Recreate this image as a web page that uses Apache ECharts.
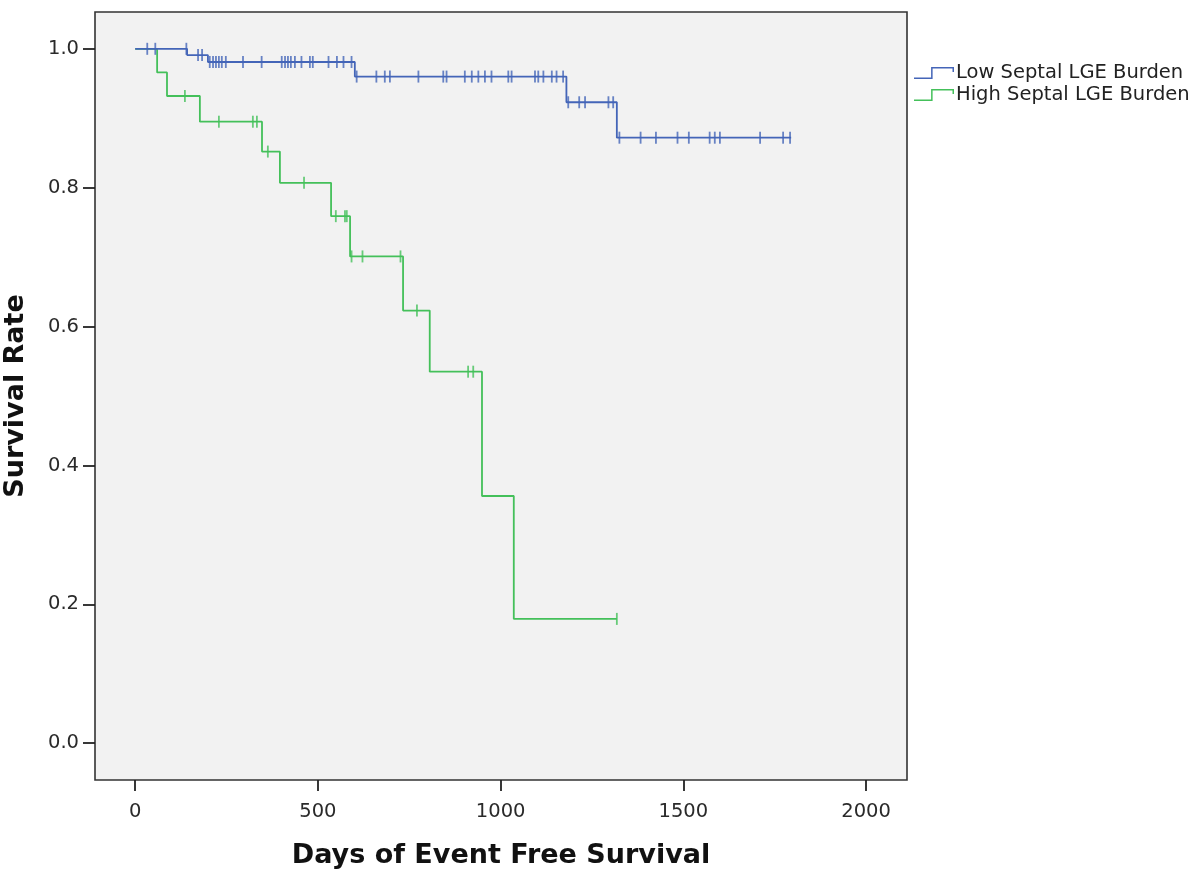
<!DOCTYPE html>
<html>
<head>
<meta charset="utf-8">
<script src="https://cdn.jsdelivr.net/npm/echarts@6/dist/echarts.min.js"></script>
<style>html,body{margin:0;padding:0;background:#fff}#c{width:1200px;height:872px}</style>
</head>
<body>
<div id="c"></div>
<script>
// Kaplan-Meier data
var lowName = 'Low Septal LGE Burden';
var highName = 'High Septal LGE Burden';

var lowEventTimes = [142, 199, 601, 1180, 1318];
var lowEventSurv  = [0.991, 0.981, 0.960, 0.923, 0.872];
var lowEndTime = 1795;
var lowCensor = [33, 55, 140, 172, 183, 204, 213, 221, 229, 237, 248, 295, 346, 401, 410, 418, 426, 437,
  455, 478, 486, 529, 552, 570, 592, 606, 660, 683, 697, 775, 843, 852, 902, 921, 939, 957, 975,
  1021, 1030, 1094, 1103, 1117, 1140, 1153, 1171, 1185, 1215, 1231, 1295, 1308, 1325, 1383, 1425,
  1484, 1515, 1572, 1586, 1600, 1710, 1773, 1792];

var highEventTimes = [60, 87, 177, 347, 396, 536, 588, 733, 806, 949, 1036];
var highEventSurv  = [0.966, 0.932, 0.895, 0.852, 0.807, 0.759, 0.701, 0.623, 0.535, 0.356, 0.179];
var highEndTime = 1318;
var highCensor = [136, 229, 322, 333, 363, 462, 549, 574, 579, 592, 622, 726, 771, 911, 925, 1318];

var xTicks = [0, 500, 1000, 1500, 2000];
var yTicks = [0, 0.2, 0.4, 0.6, 0.8, 1.0];

var blue = '#4465b8';
var green = '#44c05a';

function stepPath(times, surv, endT) {
  var pts = [[0, 1]];
  var prev = 1;
  for (var i = 0; i < times.length; i++) {
    pts.push([times[i], prev]);
    pts.push([times[i], surv[i]]);
    prev = surv[i];
  }
  pts.push([endT, prev]);
  return pts;
}
function survAt(t, times, surv) {
  var s = 1;
  for (var i = 0; i < times.length; i++) { if (times[i] <= t) s = surv[i]; }
  return s;
}
function censorPts(cs, times, surv) {
  return cs.map(function (t) { return [t, survAt(t, times, surv)]; });
}

var legendIcon = 'path://M0,10.5h18.6v1.5h-18.6z M17.1,0h1.5v12h-1.5z M17.1,0h22.9v1.5h-22.9z M38.5,0h1.5v5h-1.5z';

var chart = echarts.init(document.getElementById('c'));
chart.setOption({
  animation: false,
  backgroundColor: '#ffffff',
  grid: {
    left: 95, top: 12, right: 293, bottom: 92,
    outerBoundsMode: 'none', containLabel: false,
    show: true, backgroundColor: '#f2f2f2', borderColor: '#333', borderWidth: 1.6
  },
  legend: {
    orient: 'vertical',
    left: 909, top: 58,
    itemWidth: 40, itemHeight: 12, itemGap: 2,
    textStyle: { fontFamily: 'DejaVu Sans', fontSize: 19.5, color: '#222', padding: [0, 0, 0, -3] },
    data: [
      { name: lowName, icon: legendIcon, itemStyle: { color: blue } },
      { name: highName, icon: legendIcon, itemStyle: { color: green } }
    ]
  },
  xAxis: {
    type: 'value', min: -110, max: 2112,
    name: 'Days of Event Free Survival', nameLocation: 'middle', nameGap: 62,
    nameTextStyle: { fontFamily: 'DejaVu Sans', fontWeight: 'bold', fontSize: 27, color: '#111' },
    axisLine: { show: false, onZero: false },
    splitLine: { show: false },
    axisTick: { show: true, length: 11, customValues: xTicks, lineStyle: { color: '#222', width: 1.8 } },
    axisLabel: {
      customValues: xTicks, margin: 22, fontFamily: 'DejaVu Sans', fontSize: 19.5, color: '#2a2a2a',
      formatter: function (v) { return String(v); }
    }
  },
  yAxis: {
    type: 'value', min: -0.053, max: 1.053,
    name: 'Survival Rate', nameLocation: 'middle', nameGap: 66, nameRotate: 90,
    nameTextStyle: { fontFamily: 'DejaVu Sans', fontWeight: 'bold', fontSize: 27, color: '#111' },
    axisLine: { show: false, onZero: false },
    splitLine: { show: false },
    axisTick: { show: true, length: 12, customValues: yTicks, lineStyle: { color: '#222', width: 1.8 } },
    axisLabel: {
      customValues: yTicks, margin: 16, fontFamily: 'DejaVu Sans', fontSize: 19.5, color: '#2a2a2a',
      formatter: function (v) { return v.toFixed(1); }
    }
  },
  series: [
    {
      name: lowName, type: 'line', data: stepPath(lowEventTimes, lowEventSurv, lowEndTime),
      showSymbol: false, symbol: 'none', lineStyle: { color: blue, width: 1.8 }, itemStyle: { color: blue }, z: 3
    },
    {
      name: highName, type: 'line', data: stepPath(highEventTimes, highEventSurv, highEndTime),
      showSymbol: false, symbol: 'none', lineStyle: { color: green, width: 1.8 }, itemStyle: { color: green }, z: 2
    },
    {
      name: lowName + ' censored', type: 'scatter', data: censorPts(lowCensor, lowEventTimes, lowEventSurv),
      symbol: 'rect', symbolSize: [1.8, 12], itemStyle: { color: blue }, z: 4
    },
    {
      name: highName + ' censored', type: 'scatter', data: censorPts(highCensor, highEventTimes, highEventSurv),
      symbol: 'rect', symbolSize: [1.8, 12], itemStyle: { color: green }, z: 4
    }
  ]
});
</script>
</body>
</html>
